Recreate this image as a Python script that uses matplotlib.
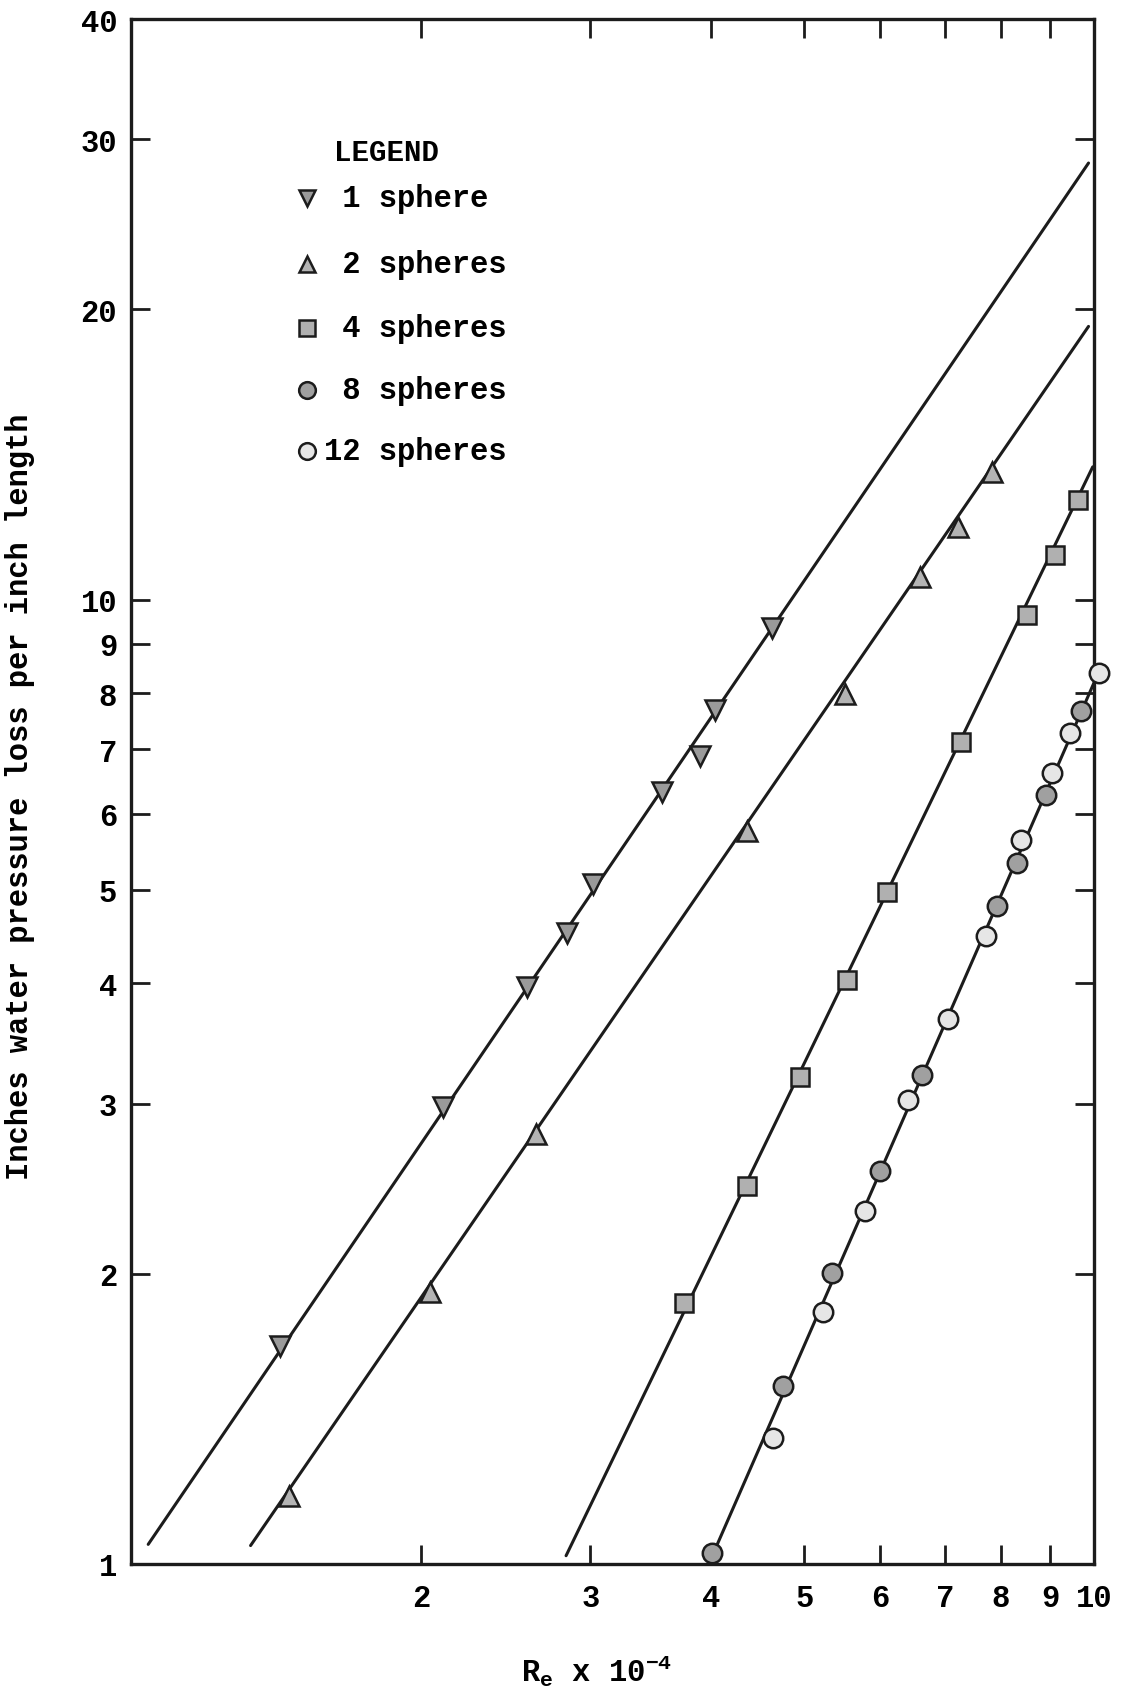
# -*- coding: utf-8 -*-
import matplotlib
matplotlib.use("Agg")
import matplotlib.pyplot as plt
from matplotlib.ticker import NullLocator

# 1 sphere
re_1 = [1.428, 2.110, 2.578, 2.839, 3.021, 3.560, 3.899, 4.045, 4.629]
dp_1 = [1.682, 2.979, 3.965, 4.515, 5.075, 6.313, 6.878, 7.691, 9.348]
# 2 spheres
re_2 = [1.458, 2.046, 2.633, 4.361, 5.511, 6.595, 7.224, 7.831]
dp_2 = [1.175, 1.915, 2.792, 5.750, 7.976, 10.56, 11.90, 13.55]
# 4 spheres
re_4 = [3.750, 4.361, 4.954, 5.540, 6.099, 7.281, 8.510, 9.106, 9.618]
dp_4 = [1.866, 2.464, 3.195, 4.037, 4.970, 7.114, 9.642, 11.12, 12.70]
# 8 spheres
re_8 = [4.008, 4.756, 5.339, 5.993, 6.636, 7.921, 8.309, 8.912, 9.703]
dp_8 = [1.026, 1.528, 2.001, 2.557, 3.216, 4.812, 5.333, 6.277, 7.657]
# 12 spheres
re_12 = [4.637, 5.234, 5.781, 6.412, 7.058, 7.733, 8.395, 9.034, 9.437, 10.12]
dp_12 = [1.352, 1.825, 2.321, 3.026, 3.672, 4.481, 5.638, 6.612, 7.272, 8.393]

# fitted straight lines (end points)
fit_re = [[1.042, 9.87], [1.331, 9.87], [2.83, 9.97], [3.98, 10.0]]
fit_dp = [[1.048, 28.36], [1.045, 19.2], [1.02, 13.73], [1.0, 8.2]]

legend_n = [1, 2, 4, 8, 12]
x_ticks = [2, 3, 4, 5, 6, 7, 8, 9, 10]
y_ticks = [1, 2, 3, 4, 5, 6, 7, 8, 9, 10, 20, 30, 40]


def main():
    plt.rcParams['font.family'] = ['Liberation Mono', 'DejaVu Sans Mono']
    plt.rcParams['font.weight'] = 'bold'
    plt.rcParams['mathtext.default'] = 'regular'

    fig = plt.figure(figsize=(11.28, 17.08), dpi=100)
    ax = fig.add_axes([131 / 1128, 1 - 1565 / 1708, 963 / 1128, 1545 / 1708])
    ax.set_xscale('log')
    ax.set_yscale('log')
    ax.set_xlim(1, 10)
    ax.set_ylim(1, 40)

    ink = '#1c1c1c'
    for fx, fy in zip(fit_re, fit_dp):
        ax.plot(fx, fy, '-', color=ink, lw=2.2, solid_capstyle='round', zorder=2)

    styles = [
        (re_1, dp_1, 'v', '#9a9a9a', 14),
        (re_2, dp_2, '^', '#b4b4b4', 14),
        (re_4, dp_4, 's', '#b0b0b0', 13),
        (re_8, dp_8, 'o', '#a0a0a0', 14),
        (re_12, dp_12, 'o', '#e6e6e6', 14),
    ]
    for x, y, m, fc, ms in styles:
        ax.plot(x, y, m, ms=ms, mfc=fc, mec=ink, mew=1.8, zorder=3, clip_on=False)

    # legend block
    ax.text(0.2655, 0.914, 'LEGEND', transform=ax.transAxes, ha='center',
            va='center', fontsize=21, fontweight='bold')
    rows = [0.8844, 0.8414, 0.7999, 0.7597, 0.7202]
    for (x, y, m, fc, ms), n, yr in zip(styles, legend_n, rows):
        ax.plot([0.183], [yr], m, ms=ms - 2, mfc=fc, mec=ink, mew=1.8,
                transform=ax.transAxes)
        word = 'sphere' if n == 1 else 'spheres'
        ax.text(0.2, yr, f"{n:>2} {word}", transform=ax.transAxes,
                ha='left', va='center', fontsize=22, fontweight='bold')

    ax.set_xticks(x_ticks)
    ax.set_xticklabels([str(t) for t in x_ticks])
    ax.set_yticks(y_ticks)
    ax.set_yticklabels([str(t) for t in y_ticks])
    ax.xaxis.set_minor_locator(NullLocator())
    ax.yaxis.set_minor_locator(NullLocator())
    ax.tick_params(which='major', direction='in', top=True, right=True,
                   length=14, width=2, color=ink, labelsize=22)
    ax.tick_params(axis='x', pad=14)
    ax.tick_params(axis='y', pad=10)
    for s in ax.spines.values():
        s.set_linewidth(2.4)
        s.set_color(ink)

    fig.text(597 / 1128, 1 - 1671 / 1708, r'$R_e$ x $10^{-4}$', ha='center',
             va='center', fontsize=22, fontweight='bold')
    fig.text(20 / 1128, 1 - 797 / 1708, 'Inches water pressure loss per inch length',
             rotation=90, ha='center', va='center', fontsize=22, fontweight='bold')

    fig.savefig('out.png', dpi=100)


if __name__ == '__main__':
    main()
